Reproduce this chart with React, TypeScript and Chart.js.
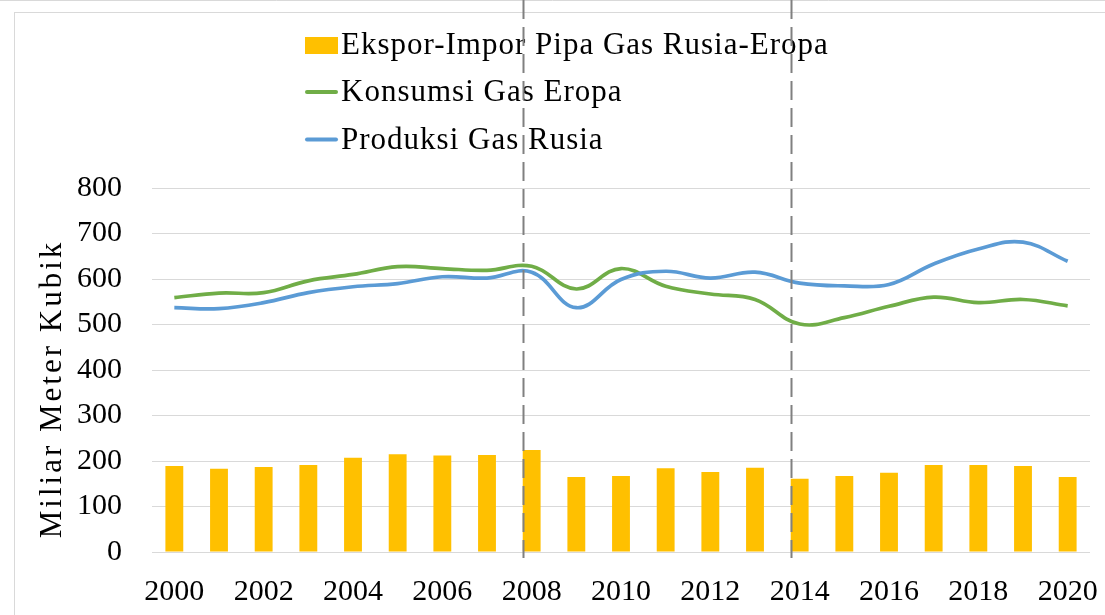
import { useEffect, useRef } from "react";
import { Chart, registerables } from "chart.js";

Chart.register(...registerables);

const years = [
  "2000", "2001", "2002", "2003", "2004", "2005", "2006", "2007", "2008", "2009", "2010",
  "2011", "2012", "2013", "2014", "2015", "2016", "2017", "2018", "2019", "2020",
];
const pipeExportImport = [189, 183, 187, 191, 207, 215, 212, 213, 224, 165, 167, 184, 176, 185, 161, 167, 174, 191, 191, 189, 165];
const europeConsumption = [559, 569, 570, 596, 610, 627, 623, 619, 628, 578, 623, 584, 567, 555, 501, 515, 540, 560, 548, 555, 541];
const russiaProduction = [537, 535, 548, 570, 583, 590, 605, 602, 615, 537, 599, 617, 602, 615, 591, 585, 588, 633, 666, 681, 639];
const seriesNames = ["Ekspor-Impor Pipa Gas Rusia-Eropa", "Konsumsi Gas Eropa", "Produksi Gas Rusia"];
const dividerYears = ["2008", "2014"];
const yAxisTitle = "Miliar Meter Kubik";
const yMin = 0;
const yMax = 800;
const yStep = 100;

const FONT = '"Liberation Serif", "Times New Roman", serif';
const BAR_COLOR = "#FFC000";
const GREEN = "#70AD47";
const BLUE = "#5B9BD5";
const GRID = "#D9D9D9";

export default function App() {
  const ref = useRef<HTMLCanvasElement>(null);

  useEffect(() => {
    const canvas = ref.current;
    if (!canvas) return;

    const framePlugin = {
      id: "frame",
      beforeDraw(chart: any) {
        const { ctx, width, height } = chart;
        ctx.save();
        ctx.fillStyle = "#ffffff";
        ctx.fillRect(0, 0, width, height);
        ctx.strokeStyle = GRID;
        ctx.lineWidth = 1;
        ctx.beginPath();
        ctx.moveTo(0, 0.5);
        ctx.lineTo(width, 0.5);
        ctx.stroke();
        ctx.strokeRect(14.5, 12.5, width + 20, height + 20);
        ctx.restore();
      },
    };

    const legendPlugin = {
      id: "customLegend",
      beforeDatasetsDraw(chart: any) {
        const { ctx } = chart;
        const ds = chart.data.datasets;
        ctx.save();
        ctx.font = `31px ${FONT}`;
        (ctx as any).letterSpacing = "1px";
        ctx.fillStyle = "#000";
        ctx.textBaseline = "alphabetic";
        ctx.textAlign = "left";
        const baselines = [53.5, 101, 148.5];
        const keyX = 305;
        const keyW = 33;
        ds.forEach((d: any, i: number) => {
          const base = baselines[i];
          if (d.type === "line") {
            ctx.strokeStyle = d.borderColor;
            ctx.lineWidth = 4;
            ctx.lineCap = "round";
            ctx.beginPath();
            ctx.moveTo(keyX + 2, base - 9);
            ctx.lineTo(keyX + keyW - 2, base - 9);
            ctx.stroke();
          } else {
            ctx.fillStyle = d.backgroundColor;
            ctx.fillRect(keyX, base - 16.5, keyW, 17);
          }
          ctx.fillStyle = "#000";
          ctx.fillText(d.label, 341, base);
        });
        ctx.restore();

        // axis title
        ctx.save();
        ctx.font = `31px ${FONT}`;
        (ctx as any).letterSpacing = "3px";
        ctx.fillStyle = "#000";
        ctx.textAlign = "center";
        ctx.textBaseline = "middle";
        ctx.translate(53, 389);
        ctx.rotate(-Math.PI / 2);
        ctx.fillText(yAxisTitle, 0, 0);
        ctx.restore();
      },
    };

    const dividerPlugin = {
      id: "dividers",
      afterDatasetsDraw(chart: any) {
        const { ctx, chartArea } = chart;
        const meta = chart.getDatasetMeta(0);
        ctx.save();
        ctx.strokeStyle = "#808080";
        ctx.lineWidth = 2;
        ctx.setLineDash([19, 8]);
        dividerYears.forEach((y) => {
          const idx = years.indexOf(y);
          const bar = meta.data[idx];
          if (!bar) return;
          const x = Math.round(bar.x - bar.width / 2) + 0.5;
          ctx.beginPath();
          ctx.moveTo(x, 0);
          ctx.lineTo(x, chartArea.bottom + 6);
          ctx.stroke();
        });
        ctx.restore();
      },
    };

    const chart = new Chart(canvas, {
      type: "bar",
      data: {
        labels: years,
        datasets: [
          {
            type: "bar",
            label: seriesNames[0],
            data: pipeExportImport,
            backgroundColor: BAR_COLOR,
            borderWidth: 0,
            categoryPercentage: 1,
            barPercentage: 0.4,
            order: 2,
          },
          {
            type: "line",
            label: seriesNames[1],
            data: europeConsumption,
            borderColor: GREEN,
            backgroundColor: GREEN,
            borderWidth: 3.7,
            pointRadius: 0,
            tension: 0.4,
            fill: false,
            order: 1,
          },
          {
            type: "line",
            label: seriesNames[2],
            data: russiaProduction,
            borderColor: BLUE,
            backgroundColor: BLUE,
            borderWidth: 3.7,
            pointRadius: 0,
            tension: 0.4,
            fill: false,
            order: 0,
          },
        ] as any,
      },
      options: {
        animation: false,
        responsive: true,
        maintainAspectRatio: false,
        devicePixelRatio: 1,
        layout: { padding: { left: 0, top: 188, right: 15, bottom: 0 } },
        plugins: {
          legend: { display: false },
          tooltip: { enabled: false },
          title: { display: false },
        },
        scales: {
          x: {
            grid: { display: false },
            border: { display: false },
            ticks: {
              autoSkip: false,
              maxRotation: 0,
              minRotation: 0,
              padding: 14,
              color: "#000",
              font: { family: FONT, size: 30 },
              callback: function (this: any, value: any, index: number) {
                return index % 2 === 0 ? this.getLabelForValue(value) : "";
              },
            },
            afterFit: (s: any) => {
              s.height = 63;
              s.paddingLeft = 0;
              s.paddingRight = 0;
            },
          },
          y: {
            min: yMin,
            max: yMax,
            grid: { color: GRID, lineWidth: 1, drawTicks: false },
            border: { display: false },
            ticks: {
              stepSize: yStep,
              padding: 30,
              color: "#000",
              font: { family: FONT, size: 30 },
            },
            afterFit: (s: any) => {
              s.width = 152;
            },
          },
        },
      },
      plugins: [framePlugin, legendPlugin, dividerPlugin],
    } as any);

    return () => chart.destroy();
  }, []);

  return (
    <div style={{ position: "fixed", left: 0, top: 0, width: 1105, height: 615, background: "#fff" }}>
      <canvas ref={ref} />
    </div>
  );
}
